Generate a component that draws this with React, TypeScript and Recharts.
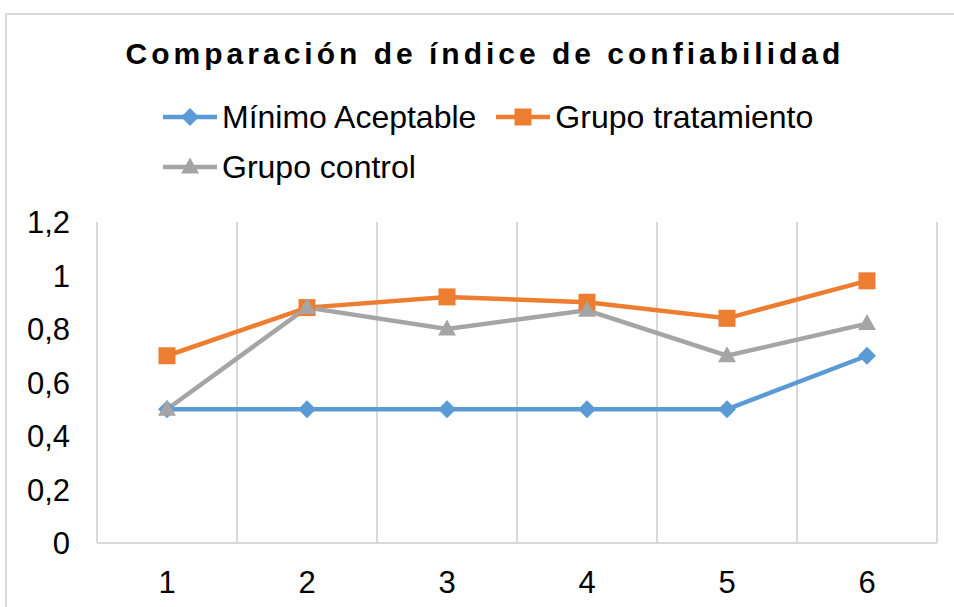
import { LineChart, Line, XAxis, YAxis, CartesianGrid } from "recharts";

const categories = [1, 2, 3, 4, 5, 6];
const minimoAceptable = [0.5, 0.5, 0.5, 0.5, 0.5, 0.7];
const grupoTratamiento = [0.7, 0.88, 0.92, 0.9, 0.84, 0.98];
const grupoControl = [0.5, 0.88, 0.8, 0.87, 0.7, 0.82];
const yTicks = [0, 0.2, 0.4, 0.6, 0.8, 1, 1.2];

const data = categories.map((c, i) => ({
  x: c,
  minimo: minimoAceptable[i],
  tratamiento: grupoTratamiento[i],
  control: grupoControl[i],
}));

const X_DOMAIN: [number, number] = [0.5, 6.5];
const FONT = "'Liberation Sans', Arial, sans-serif";

type Shape = "diamond" | "square" | "triangle";

const series: { key: string; name: string; color: string; shape: Shape }[] = [
  { key: "minimo", name: "Mínimo Aceptable", color: "#5B9BD5", shape: "diamond" },
  { key: "tratamiento", name: "Grupo tratamiento", color: "#ED7D31", shape: "square" },
  { key: "control", name: "Grupo control", color: "#A5A5A5", shape: "triangle" },
];

function Marker({ cx, cy, shape, color }: { cx: number; cy: number; shape: Shape; color: string }) {
  if (cx == null || cy == null) return null;
  if (shape === "diamond") {
    const r = 9;
    return <polygon points={`${cx},${cy - r} ${cx + r},${cy} ${cx},${cy + r} ${cx - r},${cy}`} fill={color} />;
  }
  if (shape === "square") {
    const s = 17;
    return <rect x={cx - s / 2} y={cy - s / 2} width={s} height={s} fill={color} />;
  }
  const w = 18;
  const h = 16;
  return <polygon points={`${cx},${cy - h * 0.6} ${cx + w / 2},${cy + h * 0.4} ${cx - w / 2},${cy + h * 0.4}`} fill={color} />;
}

function LegendIcon({ shape, color }: { shape: Shape; color: string }) {
  return (
    <svg width={54} height={24} style={{ display: "block" }}>
      <line x1={0} y1={12} x2={54} y2={12} stroke={color} strokeWidth={4.5} />
      <Marker cx={27} cy={12} shape={shape} color={color} />
    </svg>
  );
}

// gridlines sit on the category boundaries, not on the ticks
const boundaries = [X_DOMAIN[0], ...categories.map((c) => c + 0.5)];

export default function App() {
  return (
    <div style={{ position: "absolute", left: 0, top: 0, width: 954, height: 607, overflow: "hidden", background: "#fff", fontFamily: FONT }}>
      <div style={{ position: "absolute", left: 5, top: 13, width: 1000, height: 700, border: "2px solid #D9D9D9" }} />
      <div
        style={{
          position: "absolute",
          left: 0,
          width: 970,
          top: 39,
          textAlign: "center",
          fontSize: 30,
          lineHeight: 1,
          fontWeight: "bold",
          letterSpacing: 4,
          color: "#000",
        }}
      >
        Comparación de índice de confiabilidad
      </div>
      <div style={{ position: "absolute", left: 163, top: 92, width: 690, display: "flex", flexWrap: "wrap" }}>
        {series.map((s) => (
          <div key={s.key} style={{ display: "flex", alignItems: "center", height: 50, marginRight: 20 }}>
            <LegendIcon shape={s.shape} color={s.color} />
            <span style={{ fontSize: 32, marginLeft: 5, color: "#000" }}>{s.name}</span>
          </div>
        ))}
      </div>
      <div style={{ position: "absolute", left: 0, top: 0 }}>
        <LineChart width={954} height={607} data={data} margin={{ top: 222, right: 17, bottom: 34, left: 17 }}>
          <CartesianGrid
            horizontal={false}
            stroke="#D9D9D9"
            strokeWidth={2}
            verticalCoordinatesGenerator={({ xAxis, offset }: any) =>
              boundaries.map((v) =>
                xAxis && typeof xAxis.scale === "function"
                  ? xAxis.scale(v)
                  : offset.left + (offset.width * (v - X_DOMAIN[0])) / (X_DOMAIN[1] - X_DOMAIN[0])
              )
            }
          />
          <XAxis
            dataKey="x"
            type="number"
            domain={X_DOMAIN}
            ticks={categories}
            tickLine={false}
            axisLine={{ stroke: "#D9D9D9", strokeWidth: 2 }}
            tickSize={0}
            tickMargin={28}
            tick={{ fill: "#000", fontSize: 31, fontFamily: FONT }}
          />
          <YAxis
            width={80}
            domain={[0, 1.2]}
            ticks={yTicks}
            tickLine={false}
            axisLine={false}
            tickSize={0}
            tickMargin={27}
            tickFormatter={(v: number) => String(v).replace(".", ",")}
            tick={{ fill: "#000", fontSize: 31, fontFamily: FONT }}
          />
          {series.map((s) => (
            <Line
              key={s.key}
              dataKey={s.key}
              name={s.name}
              stroke={s.color}
              strokeWidth={4.5}
              isAnimationActive={false}
              dot={(p: any) => <Marker key={`${s.key}-${p.index}`} cx={p.cx} cy={p.cy} shape={s.shape} color={s.color} />}
              activeDot={false}
            />
          ))}
        </LineChart>
      </div>
    </div>
  );
}
